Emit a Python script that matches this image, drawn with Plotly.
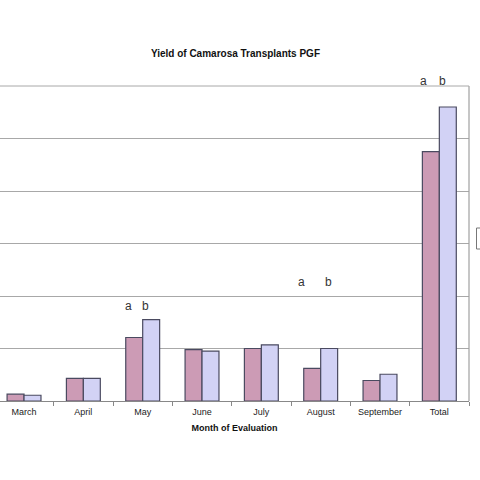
import plotly.graph_objects as go

months = ["March", "April", "May", "June", "July", "August", "September", "Total"]
series_a = [0.13, 0.43, 1.21, 0.98, 1.00, 0.62, 0.39, 4.75]
series_b = [0.11, 0.43, 1.55, 0.95, 1.07, 1.00, 0.51, 5.60]
series_names = ["Treatment a", "Treatment b"]

sig_months = ["May", "August", "Total"]
sig_label_y = [1.81, 2.27, 6.10]
sig_offsets = [(-14, 3), (-19, 8), (-16, 3)]

Y_MAX = 6

fig = go.Figure()
fig.add_trace(go.Bar(x=months, y=series_a, name=series_names[0],
                     marker=dict(color="#CC9BB5", line=dict(color="#4A4A60", width=1.2))))
fig.add_trace(go.Bar(x=months, y=series_b, name=series_names[1],
                     marker=dict(color="#D2D2F5", line=dict(color="#4A4A60", width=1.2))))

ann = []
for m, yv, (oa, ob) in zip(sig_months, sig_label_y, sig_offsets):
    for letter, off in (("a", oa), ("b", ob)):
        ann.append(dict(x=m, y=yv / Y_MAX, xref="x", yref="paper", text=letter, showarrow=False,
                        xshift=off, yanchor="middle",
                        font=dict(family="Liberation Sans, Arial", size=12, color="#333333")))

W = H = 480
PLOT_W = 469
PLOT_H = 315
box_x = 476.5 / PLOT_W
box_top = (401 - 228) / PLOT_H
box_bot = (401 - 249) / PLOT_H
fig.update_layout(
    width=W, height=H,
    margin=dict(l=0, r=11, t=86, b=79, autoexpand=False),
    paper_bgcolor="white", plot_bgcolor="white",
    barmode="group", bargap=0.4286, bargroupgap=0,
    showlegend=False,
    title=dict(text="<b>Yield of Camarosa Transplants PGF</b>", x=0.502, xref="paper",
               xanchor="center", y=1 - 53 / H, yanchor="middle", yref="container",
               font=dict(family="Liberation Sans, Arial", size=10, color="#111111")),
    font=dict(family="Liberation Sans, Arial", color="#222222"),
    annotations=ann,
    shapes=[
        dict(type="line", xref="paper", yref="paper", x0=1, x1=1, y0=0, y1=1,
             line=dict(color="#A0A0A0", width=1.2), layer="above"),
        dict(type="line", xref="paper", yref="paper", x0=0, x1=1, y0=1, y1=1,
             line=dict(color="#A8A8A8", width=1), layer="above"),
        dict(type="rect", xref="paper", yref="paper", x0=box_x, x1=1.05,
             y0=box_bot, y1=box_top,
             line=dict(color="#777777", width=1), fillcolor="rgba(0,0,0,0)", layer="above"),
    ],
)
fig.update_xaxes(range=[-0.405, 7.5], showline=True, linecolor="#888888", linewidth=1,
                 mirror=False, ticks="outside", tickson="boundaries", ticklen=4,
                 tickcolor="#888888", tickfont=dict(size=9, color="#222222"),
                 ticklabelstandoff=2,
                 title=dict(text="<b>Month of Evaluation</b>", standoff=8,
                            font=dict(size=9, color="#111111")),
                 showgrid=False)
fig.update_yaxes(range=[0, Y_MAX], dtick=1, showgrid=True, gridcolor="#A8A8A8", gridwidth=1,
                 showticklabels=False, zeroline=False, showline=False, ticks="")

fig.write_html("out.html", config={"displayModeBar": False},
               post_script="document.body.style.margin='0';document.body.style.overflow='hidden';")
